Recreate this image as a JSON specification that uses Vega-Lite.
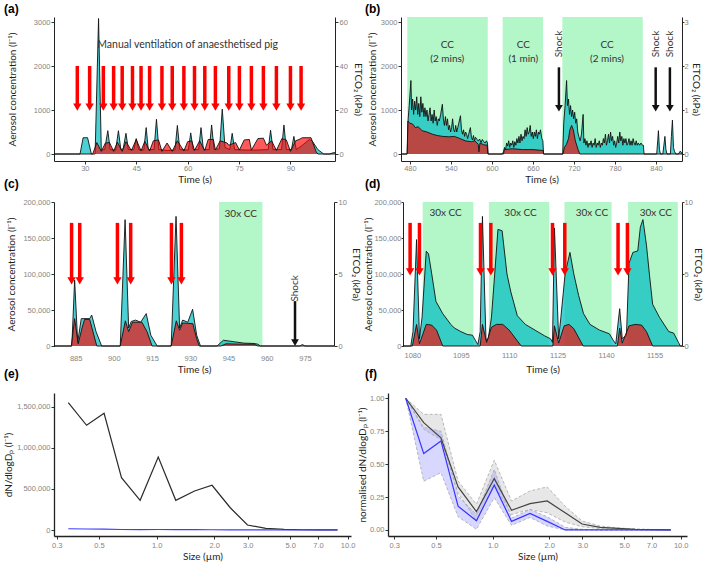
{
  "$schema": "https://vega.github.io/schema/vega-lite/v6.json",
  "background": "white",
  "padding": {"left": 3, "top": 2, "right": 0, "bottom": 0},
  "spacing": -7,
  "config": {
    "view": {"stroke": null},
    "axis": {
      "grid": false, "domainColor": "#222222", "domainWidth": 1, "tickColor": "#333333", "tickSize": 3,
      "labelColor": "#858585", "labelFont": "Liberation Sans", "labelFontSize": 7.5, "labelPadding": 1,
      "labelFlush": false, "labelOverlap": false,
      "titleFont": "Lato", "titleFontSize": 10, "titleFontWeight": "normal", "titleColor": "#1e1e1e"
    },
    "title": {"font": "Liberation Sans", "fontSize": 12, "fontWeight": "bold", "color": "#000000", "anchor": "start", "frame": "group"},
    "text": {"font": "Lato", "fontSize": 10, "color": "#333333"}
  },
  "datasets": {
    "a_aer": [{"t":21,"v":0},{"t":28.6,"v":0},{"t":29.5,"v":370},{"t":30.8,"v":370},{"t":31.9,"v":0},{"t":33.0,"v":0},{"t":34.0,"v":3080},{"t":34.8,"v":90},{"t":35.8,"v":100},{"t":36.7,"v":530},{"t":37.4,"v":100},{"t":39.0,"v":90},{"t":39.8,"v":530},{"t":40.5,"v":100},{"t":41.2,"v":120},{"t":42.0,"v":470},{"t":42.7,"v":100},{"t":44.3,"v":100},{"t":45.0,"v":350},{"t":45.7,"v":100},{"t":47.2,"v":90},{"t":47.9,"v":600},{"t":48.5,"v":100},{"t":50.2,"v":100},{"t":50.9,"v":790},{"t":51.6,"v":100},{"t":54.0,"v":80},{"t":56.3,"v":90},{"t":57.0,"v":650},{"t":57.7,"v":100},{"t":60.2,"v":90},{"t":60.9,"v":480},{"t":61.6,"v":100},{"t":63.2,"v":100},{"t":63.9,"v":600},{"t":64.6,"v":100},{"t":66.3,"v":100},{"t":67.0,"v":660},{"t":67.7,"v":100},{"t":69.3,"v":120},{"t":70.1,"v":1020},{"t":70.9,"v":150},{"t":72.3,"v":100},{"t":73.0,"v":470},{"t":73.7,"v":100},{"t":77.0,"v":90},{"t":80.0,"v":90},{"t":83.5,"v":100},{"t":84.2,"v":540},{"t":84.9,"v":100},{"t":87.4,"v":100},{"t":88.1,"v":660},{"t":88.8,"v":100},{"t":90.3,"v":100},{"t":91.0,"v":400},{"t":91.7,"v":100},{"t":93.5,"v":200},{"t":95.5,"v":330},{"t":96.3,"v":300},{"t":98.0,"v":100},{"t":99.7,"v":0},{"t":101.5,"v":0},{"t":102.5,"v":30},{"t":103,"v":30}],
    "a_et": [{"t":21,"v":0},{"t":32.3,"v":0},{"t":33.5,"v":5.2},{"t":34.8,"v":1.2},{"t":36.0,"v":5.0},{"t":37.2,"v":5.2},{"t":38.4,"v":1.2},{"t":39.5,"v":5.4},{"t":40.9,"v":1.2},{"t":42.0,"v":5.6},{"t":43.6,"v":1.6},{"t":45.0,"v":6.6},{"t":46.4,"v":1.4},{"t":47.5,"v":5.8},{"t":48.9,"v":1.4},{"t":50.0,"v":6.0},{"t":51.5,"v":6.4},{"t":52.5,"v":1.2},{"t":54.0,"v":5.0},{"t":55.5,"v":1.2},{"t":57.0,"v":6.0},{"t":58.9,"v":1.4},{"t":60.0,"v":5.6},{"t":61.2,"v":6.0},{"t":62.0,"v":1.6},{"t":63.5,"v":6.0},{"t":65.0,"v":1.6},{"t":66.0,"v":6.6},{"t":67.5,"v":6.6},{"t":68.1,"v":1.8},{"t":69.5,"v":6.0},{"t":71.5,"v":5.0},{"t":72.0,"v":4.0},{"t":74.0,"v":5.2},{"t":75.1,"v":1.8},{"t":76.5,"v":6.4},{"t":78.0,"v":6.6},{"t":78.6,"v":1.8},{"t":80.5,"v":7.0},{"t":82.1,"v":7.2},{"t":83.0,"v":4.0},{"t":84.5,"v":6.0},{"t":85.9,"v":1.6},{"t":87.5,"v":7.0},{"t":88.8,"v":6.4},{"t":90.0,"v":1.2},{"t":91.5,"v":6.0},{"t":92.5,"v":6.6},{"t":93.5,"v":7.4},{"t":96.0,"v":7.4},{"t":97.5,"v":1.0},{"t":98.0,"v":0},{"t":103,"v":0}],
    "a_arr": [{"t":27.8},{"t":31.4},{"t":35.4},{"t":38.4},{"t":40.9},{"t":43.9},{"t":46.4},{"t":48.9},{"t":52.5},{"t":55.5},{"t":58.9},{"t":62.0},{"t":65.0},{"t":68.1},{"t":72.0},{"t":75.1},{"t":78.6},{"t":82.1},{"t":85.9},{"t":90.0},{"t":93.1}],
    "a_txt": [{"t":60,"label":"Manual ventilation of anaesthetised pig"}],
    "b_aer": [{"t":467,"v":0},{"t":476,"v":0},{"t":477.5,"v":800},{"t":479,"v":1100},{"t":481.5,"v":1670},{"t":482.5,"v":1000},{"t":484,"v":1250},{"t":485.5,"v":900},{"t":487,"v":1200},{"t":488.5,"v":1000},{"t":490,"v":1300},{"t":491.5,"v":900},{"t":493,"v":1150},{"t":494.5,"v":850},{"t":496,"v":1300},{"t":497.5,"v":950},{"t":499,"v":1150},{"t":500.5,"v":850},{"t":502,"v":1050},{"t":503.5,"v":850},{"t":505,"v":1000},{"t":506.5,"v":750},{"t":508,"v":900},{"t":509.5,"v":1050},{"t":511,"v":750},{"t":512.5,"v":900},{"t":514,"v":700},{"t":515.5,"v":1000},{"t":517,"v":750},{"t":518.5,"v":850},{"t":520,"v":650},{"t":521.5,"v":800},{"t":523,"v":750},{"t":525,"v":900},{"t":527.5,"v":1130},{"t":529,"v":800},{"t":530.5,"v":650},{"t":532,"v":850},{"t":533.5,"v":650},{"t":535,"v":800},{"t":536.5,"v":550},{"t":538,"v":650},{"t":539.5,"v":500},{"t":541,"v":600},{"t":542.5,"v":800},{"t":544,"v":550},{"t":545.5,"v":500},{"t":547,"v":650},{"t":548.5,"v":500},{"t":550,"v":600},{"t":551.5,"v":700},{"t":554,"v":870},{"t":555.5,"v":550},{"t":557,"v":450},{"t":558.5,"v":550},{"t":560,"v":400},{"t":561.5,"v":500},{"t":563,"v":450},{"t":564.5,"v":350},{"t":566,"v":450},{"t":568.5,"v":600},{"t":570,"v":380},{"t":571.5,"v":320},{"t":573,"v":420},{"t":574.5,"v":300},{"t":576,"v":380},{"t":578,"v":330},{"t":580,"v":300},{"t":582,"v":340},{"t":584,"v":260},{"t":586,"v":330},{"t":588,"v":280},{"t":590,"v":250},{"t":592,"v":300},{"t":593.5,"v":250},{"t":594.5,"v":0},{"t":615,"v":0},{"t":617,"v":50},{"t":618.5,"v":150},{"t":620,"v":100},{"t":621.5,"v":250},{"t":623,"v":180},{"t":624.5,"v":300},{"t":626,"v":150},{"t":627.5,"v":250},{"t":629,"v":200},{"t":630.5,"v":300},{"t":632,"v":150},{"t":633.5,"v":280},{"t":635,"v":200},{"t":636.5,"v":350},{"t":638,"v":250},{"t":639.5,"v":400},{"t":641,"v":250},{"t":642.5,"v":450},{"t":644,"v":300},{"t":645.5,"v":400},{"t":647,"v":350},{"t":648.5,"v":550},{"t":650,"v":400},{"t":651.5,"v":600},{"t":653,"v":450},{"t":654.5,"v":500},{"t":656,"v":650},{"t":657.5,"v":400},{"t":659,"v":500},{"t":660.5,"v":350},{"t":662,"v":500},{"t":663.5,"v":400},{"t":665,"v":550},{"t":666.5,"v":350},{"t":668,"v":500},{"t":669.5,"v":450},{"t":671,"v":550},{"t":673,"v":350},{"t":674.5,"v":300},{"t":675.5,"v":0},{"t":703.5,"v":0},{"t":705,"v":700},{"t":707,"v":1100},{"t":709.2,"v":1670},{"t":710.5,"v":1100},{"t":712,"v":1250},{"t":713.5,"v":900},{"t":715,"v":1100},{"t":716.5,"v":850},{"t":718,"v":1000},{"t":719.5,"v":800},{"t":721,"v":950},{"t":722.5,"v":700},{"t":724,"v":800},{"t":725.5,"v":500},{"t":727,"v":400},{"t":729,"v":300},{"t":731,"v":450},{"t":733.4,"v":900},{"t":734.5,"v":250},{"t":736,"v":350},{"t":737.5,"v":200},{"t":739,"v":300},{"t":740.5,"v":150},{"t":742,"v":250},{"t":743.5,"v":200},{"t":745,"v":300},{"t":746.5,"v":150},{"t":748,"v":250},{"t":749.5,"v":200},{"t":751,"v":350},{"t":752.5,"v":150},{"t":754,"v":250},{"t":755.5,"v":200},{"t":757,"v":300},{"t":758.5,"v":150},{"t":760,"v":250},{"t":761.5,"v":200},{"t":763,"v":350},{"t":764.5,"v":250},{"t":766,"v":450},{"t":767.5,"v":200},{"t":769,"v":300},{"t":770.5,"v":450},{"t":772,"v":250},{"t":773.5,"v":500},{"t":775,"v":300},{"t":776.5,"v":400},{"t":778,"v":200},{"t":779.5,"v":300},{"t":781,"v":150},{"t":782.5,"v":250},{"t":784,"v":400},{"t":785.5,"v":250},{"t":787,"v":500},{"t":788.5,"v":300},{"t":790,"v":400},{"t":791.5,"v":200},{"t":793,"v":350},{"t":794.5,"v":250},{"t":796,"v":350},{"t":797.5,"v":200},{"t":799,"v":250},{"t":800.5,"v":350},{"t":802,"v":200},{"t":803.5,"v":300},{"t":805,"v":200},{"t":806.5,"v":350},{"t":808,"v":250},{"t":809.5,"v":200},{"t":811,"v":300},{"t":812.5,"v":200},{"t":814,"v":250},{"t":816,"v":200},{"t":818,"v":250},{"t":820,"v":200},{"t":821.5,"v":200},{"t":822.5,"v":0},{"t":841,"v":0},{"t":842.5,"v":300},{"t":843.5,"v":530},{"t":845,"v":100},{"t":846.5,"v":0},{"t":850,"v":0},{"t":851.5,"v":200},{"t":853,"v":400},{"t":854.5,"v":100},{"t":856,"v":0},{"t":861,"v":0},{"t":862.5,"v":400},{"t":864,"v":770},{"t":865.5,"v":150},{"t":867,"v":60},{"t":869,"v":0},{"t":873,"v":0},{"t":875,"v":60},{"t":876.5,"v":50},{"t":878,"v":0}],
    "b_et": [{"t":467,"v":0},{"t":476,"v":0},{"t":477,"v":0.75},{"t":480,"v":0.7},{"t":484,"v":0.68},{"t":488,"v":0.6},{"t":492,"v":0.62},{"t":498,"v":0.53},{"t":505,"v":0.5},{"t":513,"v":0.45},{"t":520,"v":0.42},{"t":528,"v":0.4},{"t":537,"v":0.39},{"t":545,"v":0.4},{"t":552,"v":0.36},{"t":561,"v":0.3},{"t":570,"v":0.28},{"t":575,"v":0.3},{"t":580,"v":0.22},{"t":581,"v":0.05},{"t":582.5,"v":0.25},{"t":588,"v":0.21},{"t":593,"v":0.2},{"t":594,"v":0},{"t":617,"v":0},{"t":618,"v":0.1},{"t":630,"v":0.12},{"t":645,"v":0.1},{"t":660,"v":0.1},{"t":675,"v":0.08},{"t":675.5,"v":0},{"t":704,"v":0},{"t":706,"v":0.15},{"t":709,"v":0.22},{"t":712,"v":0.35},{"t":714,"v":0.55},{"t":716.5,"v":0.65},{"t":719,"v":0.55},{"t":722,"v":0.3},{"t":726,"v":0.1},{"t":728.5,"v":0},{"t":878,"v":0}],
    "b_band": [{"t":476.2,"t2":593.9},{"t":615.7,"t2":674.8},{"t":703,"t2":820.6}],
    "b_txt": [{"t":534.7,"label":"CC\n(2 mins)"},{"t":645.8,"label":"CC\n(1 min)"},{"t":768.3,"label":"CC\n(2 mins)"}],
    "b_shock": [{"t":698},{"t":839.5},{"t":860.3}],
    "c_aer": [{"t":876.5,"v":0},{"t":883.5,"v":0},{"t":884.6,"v":91400},{"t":885.8,"v":5000},{"t":887.2,"v":38000},{"t":890.5,"v":38000},{"t":891.3,"v":43000},{"t":893,"v":20000},{"t":895.2,"v":0},{"t":902.5,"v":0},{"t":904.4,"v":175500},{"t":905.8,"v":25000},{"t":906.8,"v":34000},{"t":908.5,"v":36000},{"t":910.5,"v":33000},{"t":912.7,"v":45000},{"t":914.5,"v":15000},{"t":917,"v":0},{"t":922.5,"v":0},{"t":924.4,"v":180000},{"t":925.8,"v":25000},{"t":927,"v":36000},{"t":929,"v":33000},{"t":930.9,"v":51000},{"t":932.5,"v":15000},{"t":934,"v":0},{"t":940.5,"v":0},{"t":943,"v":8000},{"t":947,"v":6000},{"t":951,"v":4000},{"t":955,"v":3500},{"t":956.5,"v":2500},{"t":957.5,"v":0},{"t":973,"v":0},{"t":974,"v":2000},{"t":975,"v":0},{"t":986.4,"v":0}],
    "c_et": [{"t":876.5,"v":0},{"t":883.3,"v":0},{"t":884.6,"v":1.9},{"t":886,"v":0.15},{"t":887.5,"v":1.25},{"t":888.5,"v":1.85},{"t":890.5,"v":1.85},{"t":893.3,"v":0},{"t":902.5,"v":0},{"t":904.5,"v":1.75},{"t":905.8,"v":1.0},{"t":907.3,"v":1.65},{"t":911,"v":1.65},{"t":913,"v":1.0},{"t":915,"v":0},{"t":922.5,"v":0},{"t":924.5,"v":1.75},{"t":925.8,"v":1.1},{"t":927,"v":1.6},{"t":931,"v":1.55},{"t":932.5,"v":0.5},{"t":933.5,"v":0},{"t":942,"v":0},{"t":944,"v":0.15},{"t":950,"v":0.125},{"t":955,"v":0.125},{"t":956.5,"v":0},{"t":986.4,"v":0}],
    "c_band": [{"t":941.3,"t2":958.3}],
    "c_txt": [{"t":949.8,"label":"30x CC"}],
    "c_arr": [{"t":883.4},{"t":886.6},{"t":901.4},{"t":906.6},{"t":922.6},{"t":926.5}],
    "c_shock": [{"t":971.1}],
    "d_aer": [{"t":1077.1,"v":0},{"t":1079.5,"v":0},{"t":1080.2,"v":20000},{"t":1081.3,"v":147800},{"t":1082.2,"v":10000},{"t":1083,"v":40000},{"t":1084.3,"v":131600},{"t":1085,"v":128000},{"t":1086,"v":100000},{"t":1087.3,"v":62000},{"t":1089.4,"v":45000},{"t":1091.9,"v":30000},{"t":1093,"v":25000},{"t":1095,"v":20000},{"t":1097,"v":16000},{"t":1098.6,"v":15000},{"t":1099.5,"v":8000},{"t":1100.3,"v":2000},{"t":1101,"v":20000},{"t":1101.7,"v":180000},{"t":1102.8,"v":8000},{"t":1103.5,"v":10000},{"t":1104.5,"v":40000},{"t":1105.5,"v":100000},{"t":1106.5,"v":162000},{"t":1107.8,"v":160000},{"t":1109.3,"v":100000},{"t":1110.5,"v":75000},{"t":1112.5,"v":42000},{"t":1115,"v":30000},{"t":1118,"v":22000},{"t":1121,"v":14000},{"t":1122.8,"v":10000},{"t":1123.4,"v":5000},{"t":1124,"v":164000},{"t":1125.3,"v":10000},{"t":1126,"v":40000},{"t":1127.3,"v":100000},{"t":1128.8,"v":130000},{"t":1130,"v":100000},{"t":1131.5,"v":70000},{"t":1133,"v":45000},{"t":1135,"v":30000},{"t":1138,"v":22000},{"t":1141,"v":17000},{"t":1142.2,"v":8000},{"t":1143,"v":3000},{"t":1144.2,"v":51800},{"t":1145,"v":10000},{"t":1146.3,"v":15000},{"t":1147.1,"v":115000},{"t":1148.3,"v":130000},{"t":1149.8,"v":132000},{"t":1150.6,"v":165000},{"t":1151.4,"v":175500},{"t":1152.5,"v":140000},{"t":1153.4,"v":100000},{"t":1154.4,"v":58000},{"t":1156.5,"v":40000},{"t":1159.4,"v":20000},{"t":1160.9,"v":18000},{"t":1162.4,"v":5000},{"t":1163,"v":0},{"t":1163.5,"v":0}],
    "d_et": [{"t":1077.1,"v":0},{"t":1080,"v":0},{"t":1081.3,"v":1.5},{"t":1082.2,"v":0.15},{"t":1084.3,"v":1.5},{"t":1086,"v":1.45},{"t":1087.5,"v":1.1},{"t":1089.4,"v":0},{"t":1101,"v":0},{"t":1101.7,"v":1.5},{"t":1103,"v":0.25},{"t":1104.5,"v":1.3},{"t":1106,"v":1.5},{"t":1108,"v":1.5},{"t":1110,"v":1.1},{"t":1113.7,"v":0},{"t":1123.5,"v":0},{"t":1124,"v":1.4},{"t":1125.3,"v":0.2},{"t":1127,"v":1.4},{"t":1128.5,"v":1.5},{"t":1130,"v":1.2},{"t":1132.9,"v":0},{"t":1143.5,"v":0},{"t":1144.2,"v":1.25},{"t":1145,"v":0.2},{"t":1147.1,"v":1.4},{"t":1149,"v":1.5},{"t":1151,"v":1.45},{"t":1152.5,"v":1.0},{"t":1154.4,"v":0},{"t":1163.5,"v":0}],
    "d_band": [{"t":1083.2,"t2":1098.9},{"t":1103.7,"t2":1122.4},{"t":1127.1,"t2":1141.7},{"t":1146.8,"t2":1162.2}],
    "d_txt": [{"t":1090.3,"label":"30x CC"},{"t":1113.5,"label":"30x CC"},{"t":1135.6,"label":"30x CC"},{"t":1155.4,"label":"30x CC"}],
    "d_arr": [{"t":1079.3},{"t":1082.2},{"t":1101.1},{"t":1104.3},{"t":1123.4},{"t":1127.2},{"t":1143.7},{"t":1146.6}],
    "e_dat": [
      {"s":0.345,"grp":"all","v":1549000},{"s":0.43,"grp":"all","v":1274000},{"s":0.531,"grp":"all","v":1420000},{"s":0.655,"grp":"all","v":636000},{"s":0.82,"grp":"all","v":361000},{"s":1.02,"grp":"all","v":888000},{"s":1.26,"grp":"all","v":361000},{"s":1.58,"grp":"all","v":474000},{"s":1.95,"grp":"all","v":544000},{"s":2.43,"grp":"all","v":271000},{"s":2.99,"grp":"all","v":61000},{"s":3.73,"grp":"all","v":20000},{"s":4.65,"grp":"all","v":8000},{"s":5.75,"grp":"all","v":3000},{"s":7.16,"grp":"all","v":1000},{"s":8.85,"grp":"all","v":500},
      {"s":0.345,"grp":"blue","v":15000},{"s":0.43,"grp":"blue","v":12000},{"s":0.531,"grp":"blue","v":11000},{"s":0.655,"grp":"blue","v":6000},{"s":0.82,"grp":"blue","v":4000},{"s":1.02,"grp":"blue","v":6000},{"s":1.26,"grp":"blue","v":4000},{"s":1.58,"grp":"blue","v":4000},{"s":1.95,"grp":"blue","v":3000},{"s":2.43,"grp":"blue","v":2000},{"s":2.99,"grp":"blue","v":1000},{"s":3.73,"grp":"blue","v":500},{"s":4.65,"grp":"blue","v":200},{"s":5.75,"grp":"blue","v":100},{"s":7.16,"grp":"blue","v":50},{"s":8.85,"grp":"blue","v":0}
    ],
    "f_dat": [
      {"s":0.345,"grp":"all","y":1.0,"lo":1.0,"hi":1.0},{"s":0.43,"grp":"all","y":0.815,"lo":0.765,"hi":0.878},{"s":0.531,"grp":"all","y":0.7,"lo":0.685,"hi":0.878},{"s":0.655,"grp":"all","y":0.327,"lo":0.283,"hi":0.372},{"s":0.82,"grp":"all","y":0.139,"lo":0.068,"hi":0.195},{"s":1.02,"grp":"all","y":0.39,"lo":0.347,"hi":0.53},{"s":1.26,"grp":"all","y":0.15,"lo":0.117,"hi":0.22},{"s":1.58,"grp":"all","y":0.2,"lo":0.155,"hi":0.296},{"s":1.95,"grp":"all","y":0.22,"lo":0.13,"hi":0.327},{"s":2.43,"grp":"all","y":0.13,"lo":0.06,"hi":0.18},{"s":2.99,"grp":"all","y":0.045,"lo":0.025,"hi":0.068},{"s":3.73,"grp":"all","y":0.02,"lo":0.01,"hi":0.03},{"s":4.65,"grp":"all","y":0.012,"lo":0.005,"hi":0.015},{"s":5.75,"grp":"all","y":0.005,"lo":0.002,"hi":0.008},{"s":7.16,"grp":"all","y":0.002,"lo":0,"hi":0.003},{"s":8.85,"grp":"all","y":0.001,"lo":0,"hi":0.001},
      {"s":0.345,"grp":"blue","y":1.0,"lo":1.0,"hi":1.0},{"s":0.43,"grp":"blue","y":0.58,"lo":0.37,"hi":0.78},{"s":0.531,"grp":"blue","y":0.676,"lo":0.435,"hi":0.75},{"s":0.655,"grp":"blue","y":0.18,"lo":0.1,"hi":0.258},{"s":0.82,"grp":"blue","y":0.07,"lo":0.005,"hi":0.117},{"s":1.02,"grp":"blue","y":0.34,"lo":0.245,"hi":0.46},{"s":1.26,"grp":"blue","y":0.065,"lo":0.035,"hi":0.09},{"s":1.58,"grp":"blue","y":0.125,"lo":0.095,"hi":0.155},{"s":1.95,"grp":"blue","y":0.065,"lo":0.03,"hi":0.1},{"s":2.43,"grp":"blue","y":0.0,"lo":0,"hi":0.02},{"s":2.99,"grp":"blue","y":0,"lo":0,"hi":0.005},{"s":3.73,"grp":"blue","y":0,"lo":0,"hi":0},{"s":4.65,"grp":"blue","y":0,"lo":0,"hi":0},{"s":5.75,"grp":"blue","y":0,"lo":0,"hi":0},{"s":7.16,"grp":"blue","y":0,"lo":0,"hi":0},{"s":8.85,"grp":"blue","y":0,"lo":0,"hi":0}
    ]
  },
  "vconcat": [
    {"spacing": 2, "hconcat": [
    {
      "width": 281, "height": 144,
      "title": {"text": "(a)", "dx": -50, "offset": 1},
      "encoding": {"x": {"field": "t", "type": "quantitative", "scale": {"domain": [21, 103], "nice": false, "zero": false},
        "axis": {"values": [30, 45, 60, 75, 90], "format": "d", "title": "Time (s)", "labelPadding": 0, "titlePadding": 3}}},
      "layer": [
        {"data": {"name": "a_aer"}, "mark": {"type": "area", "color": "#00bcc2", "line": {"color": "#111111", "strokeWidth": 0.9}},
         "encoding": {"y": {"field": "v", "type": "quantitative", "scale": {"domain": [-159, 3114], "nice": false, "zero": false},
           "axis": {"orient": "left", "values": [0, 1000, 2000, 3000], "format": "d", "title": "Aerosol concentration (l⁻¹)", "titlePadding": 16}},
           "y2": {"datum": 0}}},
        {"data": {"name": "a_et"}, "mark": {"type": "area", "color": "#ff0000", "fillOpacity": 0.65, "line": {"color": "#111111", "strokeWidth": 0.9}},
         "encoding": {"y": {"field": "v", "type": "quantitative", "scale": {"domain": [-3.18, 62.28], "nice": false, "zero": false},
           "axis": {"orient": "right", "values": [0, 20, 40, 60], "format": "d", "title": "ETCO₂ (kPa)", "titlePadding": 5}},
           "y2": {"datum": 0}}},
        {"data": {"name": "a_arr"}, "mark": {"type": "rule", "color": "#ff0000", "strokeWidth": 3.5},
         "encoding": {"y": {"datum": 2000, "type": "quantitative", "scale": {"domain": [-159, 3114], "nice": false, "zero": false}, "axis": null}, "y2": {"datum": 1100}}},
        {"data": {"name": "a_arr"}, "mark": {"type": "point", "shape": "triangle-down", "filled": true, "color": "#ff0000", "size": 70, "opacity": 1},
         "encoding": {"y": {"datum": 1066, "type": "quantitative", "scale": {"domain": [-159, 3114], "nice": false, "zero": false}, "axis": null}}},
        {"data": {"name": "a_txt"}, "mark": {"type": "text", "fontSize": 10.5},
         "encoding": {"y": {"datum": 2470, "type": "quantitative", "scale": {"domain": [-159, 3114], "nice": false, "zero": false}, "axis": null}, "text": {"field": "label", "type": "nominal"}}}
      ],
      "resolve": {"scale": {"y": "independent"}}
    },
    {
      "width": 281, "height": 144,
      "title": {"text": "(b)", "dx": -36, "offset": 1},
      "encoding": {"x": {"field": "t", "type": "quantitative", "scale": {"domain": [467, 878], "nice": false, "zero": false},
        "axis": {"values": [480, 540, 600, 660, 720, 780, 840], "format": "d", "title": "Time (s)", "labelPadding": 0, "titlePadding": 3}}},
      "layer": [
        {"data": {"name": "b_band"}, "mark": {"type": "rect", "color": "#b3f6c8"},
         "encoding": {"x2": {"field": "t2"}, "y": {"datum": 0, "type": "quantitative", "scale": {"domain": [-159, 3114], "nice": false, "zero": false}, "axis": null}, "y2": {"datum": 3114}}},
        {"data": {"name": "b_aer"}, "mark": {"type": "area", "color": "#00bcc2", "line": {"color": "#111111", "strokeWidth": 0.9}},
         "encoding": {"y": {"field": "v", "type": "quantitative", "scale": {"domain": [-159, 3114], "nice": false, "zero": false},
           "axis": {"orient": "left", "values": [0, 1000, 2000, 3000], "format": "d", "title": "Aerosol concentration (l⁻¹)", "titlePadding": 3}},
           "y2": {"datum": 0}}},
        {"data": {"name": "b_et"}, "mark": {"type": "area", "color": "#ff0000", "fillOpacity": 0.65, "line": {"color": "#111111", "strokeWidth": 0.9}},
         "encoding": {"y": {"field": "v", "type": "quantitative", "scale": {"domain": [-0.159, 3.114], "nice": false, "zero": false},
           "axis": {"orient": "right", "values": [0, 1, 2, 3], "format": "d", "title": "ETCO₂ (kPa)", "tickSize": 2, "labelPadding": 0, "titlePadding": 2}},
           "y2": {"datum": 0}}},
        {"data": {"name": "b_txt"}, "mark": {"type": "text", "lineBreak": "\n", "lineHeight": 14, "baseline": "middle"},
         "encoding": {"y": {"datum": 2470, "type": "quantitative", "scale": {"domain": [-159, 3114], "nice": false, "zero": false}, "axis": null}, "text": {"field": "label", "type": "nominal"}}},
        {"data": {"name": "b_shock"}, "mark": {"type": "text", "text": "Shock", "angle": 270, "baseline": "middle", "align": "center"},
         "encoding": {"y": {"datum": 2500, "type": "quantitative", "scale": {"domain": [-159, 3114], "nice": false, "zero": false}, "axis": null}}},
        {"data": {"name": "b_shock"}, "mark": {"type": "rule", "color": "#111111", "strokeWidth": 2.5},
         "encoding": {"y": {"datum": 1970, "type": "quantitative", "scale": {"domain": [-159, 3114], "nice": false, "zero": false}, "axis": null}, "y2": {"datum": 1080}}},
        {"data": {"name": "b_shock"}, "mark": {"type": "point", "shape": "triangle-down", "filled": true, "color": "#111111", "size": 60, "opacity": 1},
         "encoding": {"y": {"datum": 1040, "type": "quantitative", "scale": {"domain": [-159, 3114], "nice": false, "zero": false}, "axis": null}}}
      ],
      "resolve": {"scale": {"y": "independent"}}
    }]},
    {"spacing": 2, "hconcat": [
    {
      "width": 280, "height": 144,
      "title": {"text": "(c)", "dx": -50, "offset": 7},
      "encoding": {"x": {"field": "t", "type": "quantitative", "scale": {"domain": [876.5, 986.4], "nice": false, "zero": false},
        "axis": {"values": [885, 900, 915, 930, 945, 960, 975], "format": "d", "title": "Time (s)", "domain": false, "ticks": false, "labelPadding": 8, "titlePadding": 3}}},
      "layer": [
        {"data": {"name": "c_band"}, "mark": {"type": "rect", "color": "#b3f6c8"},
         "encoding": {"x2": {"field": "t2"}, "y": {"datum": 0, "type": "quantitative", "scale": {"domain": [0, 200000], "nice": false, "zero": false}, "axis": null}, "y2": {"datum": 200000}}},
        {"data": {"name": "c_aer"}, "mark": {"type": "area", "color": "#00bcc2", "line": {"color": "#111111", "strokeWidth": 0.9}},
         "encoding": {"y": {"field": "v", "type": "quantitative", "scale": {"domain": [0, 200000], "nice": false, "zero": false},
           "axis": {"orient": "left", "values": [0, 50000, 100000, 150000, 200000], "format": ",d", "title": "Aerosol concentration (l⁻¹)", "titlePadding": 6}},
           "y2": {"datum": 0}}},
        {"data": {"name": "c_et"}, "mark": {"type": "area", "color": "#ff0000", "fillOpacity": 0.65, "line": {"color": "#111111", "strokeWidth": 0.9}},
         "encoding": {"y": {"field": "v", "type": "quantitative", "scale": {"domain": [0, 10], "nice": false, "zero": false},
           "axis": {"orient": "right", "values": [0, 5, 10], "format": "d", "title": "ETCO₂ (kPa)", "titlePadding": 4}},
           "y2": {"datum": 0}}},
        {"data": {"name": "c_txt"}, "mark": {"type": "text", "baseline": "middle"},
         "encoding": {"y": {"datum": 184000, "type": "quantitative", "scale": {"domain": [0, 200000], "nice": false, "zero": false}, "axis": null}, "text": {"field": "label", "type": "nominal"}}},
        {"data": {"name": "c_arr"}, "mark": {"type": "rule", "color": "#ff0000", "strokeWidth": 3.5},
         "encoding": {"y": {"datum": 171000, "type": "quantitative", "scale": {"domain": [0, 200000], "nice": false, "zero": false}, "axis": null}, "y2": {"datum": 92000}}},
        {"data": {"name": "c_arr"}, "mark": {"type": "point", "shape": "triangle-down", "filled": true, "color": "#ff0000", "size": 70, "opacity": 1},
         "encoding": {"y": {"datum": 90300, "type": "quantitative", "scale": {"domain": [0, 200000], "nice": false, "zero": false}, "axis": null}}},
        {"data": {"name": "c_shock"}, "mark": {"type": "text", "text": "Shock", "angle": 270, "baseline": "middle", "align": "center"},
         "encoding": {"y": {"datum": 80000, "type": "quantitative", "scale": {"domain": [0, 200000], "nice": false, "zero": false}, "axis": null}}},
        {"data": {"name": "c_shock"}, "mark": {"type": "rule", "color": "#111111", "strokeWidth": 2.5},
         "encoding": {"y": {"datum": 62300, "type": "quantitative", "scale": {"domain": [0, 200000], "nice": false, "zero": false}, "axis": null}, "y2": {"datum": 6000}}},
        {"data": {"name": "c_shock"}, "mark": {"type": "point", "shape": "triangle-down", "filled": true, "color": "#111111", "size": 60, "opacity": 1},
         "encoding": {"y": {"datum": 4800, "type": "quantitative", "scale": {"domain": [0, 200000], "nice": false, "zero": false}, "axis": null}}}
      ],
      "resolve": {"scale": {"y": "independent"}}
    },
    {
      "width": 279, "height": 144,
      "title": {"text": "(d)", "dx": -38, "offset": 7},
      "encoding": {"x": {"field": "t", "type": "quantitative", "scale": {"domain": [1077.1, 1163.5], "nice": false, "zero": false},
        "axis": {"values": [1080, 1095, 1110, 1125, 1140, 1155], "format": "d", "title": "Time (s)", "domain": false, "ticks": false, "labelPadding": 5, "titlePadding": 6}}},
      "layer": [
        {"data": {"name": "d_band"}, "mark": {"type": "rect", "color": "#b3f6c8"},
         "encoding": {"x2": {"field": "t2"}, "y": {"datum": 0, "type": "quantitative", "scale": {"domain": [0, 200000], "nice": false, "zero": false}, "axis": null}, "y2": {"datum": 200000}}},
        {"data": {"name": "d_aer"}, "mark": {"type": "area", "color": "#00bcc2", "line": {"color": "#111111", "strokeWidth": 0.9}},
         "encoding": {"y": {"field": "v", "type": "quantitative", "scale": {"domain": [0, 200000], "nice": false, "zero": false},
           "axis": {"orient": "left", "values": [0, 50000, 100000, 150000, 200000], "format": ",d", "title": "Aerosol concentration (l⁻¹)", "tickSize": 2, "labelPadding": 0, "titlePadding": 0}},
           "y2": {"datum": 0}}},
        {"data": {"name": "d_et"}, "mark": {"type": "area", "color": "#ff0000", "fillOpacity": 0.65, "line": {"color": "#111111", "strokeWidth": 0.9}},
         "encoding": {"y": {"field": "v", "type": "quantitative", "scale": {"domain": [0, 10], "nice": false, "zero": false},
           "axis": {"orient": "right", "values": [0, 5, 10], "format": "d", "title": "ETCO₂ (kPa)", "tickSize": 2, "labelPadding": 0, "titlePadding": 0}},
           "y2": {"datum": 0}}},
        {"data": {"name": "d_txt"}, "mark": {"type": "text", "baseline": "middle"},
         "encoding": {"y": {"datum": 184700, "type": "quantitative", "scale": {"domain": [0, 200000], "nice": false, "zero": false}, "axis": null}, "text": {"field": "label", "type": "nominal"}}},
        {"data": {"name": "d_arr"}, "mark": {"type": "rule", "color": "#ff0000", "strokeWidth": 3.5},
         "encoding": {"y": {"datum": 171000, "type": "quantitative", "scale": {"domain": [0, 200000], "nice": false, "zero": false}, "axis": null}, "y2": {"datum": 104000}}},
        {"data": {"name": "d_arr"}, "mark": {"type": "point", "shape": "triangle-down", "filled": true, "color": "#ff0000", "size": 70, "opacity": 1},
         "encoding": {"y": {"datum": 102800, "type": "quantitative", "scale": {"domain": [0, 200000], "nice": false, "zero": false}, "axis": null}}}
      ],
      "resolve": {"scale": {"y": "independent"}}
    }]},
    {"spacing": 2, "hconcat": [
    {
      "width": 297, "height": 143,
      "title": {"text": "(e)", "dx": -50, "offset": 12},
      "data": {"name": "e_dat"},
      "mark": {"type": "line", "strokeWidth": 1.2},
      "encoding": {
        "x": {"field": "s", "type": "quantitative", "scale": {"type": "log", "domain": [0.2904, 10.41], "nice": false},
          "axis": {"values": [0.3, 0.5, 1, 2, 3, 5, 7, 10], "format": ".1f", "title": "Size (µm)", "domainWidth": 1.3, "labelPadding": 2, "titlePadding": 3}},
        "y": {"field": "v", "type": "quantitative", "scale": {"domain": [-73000, 1667000], "nice": false, "zero": false},
          "axis": {"values": [0, 500000, 1000000, 1500000], "format": ",d", "title": "dN/dlogDₚ (l⁻¹)", "domainWidth": 1.3, "titlePadding": 3}},
        "color": {"field": "grp", "type": "nominal", "scale": {"domain": ["all", "blue"], "range": ["#2b2b2b", "#3d3dff"]}, "legend": null}
      }
    },
    {
      "width": 299, "height": 143,
      "title": {"text": "(f)", "dx": -23, "offset": 12},
      "data": {"name": "f_dat"},
      "encoding": {
        "x": {"field": "s", "type": "quantitative", "scale": {"type": "log", "domain": [0.2777, 10.8], "nice": false},
          "axis": {"values": [0.3, 0.5, 1, 2, 3, 5, 7, 10], "format": ".1f", "title": "Size (µm)", "domainWidth": 1.3, "labelPadding": 2, "titlePadding": 3}}
      },
      "layer": [
        {"mark": {"type": "area", "fillOpacity": 0.4},
         "encoding": {
           "y": {"field": "lo", "type": "quantitative", "scale": {"domain": [-0.046, 1.04], "nice": false, "zero": false},
             "axis": {"values": [0, 0.25, 0.5, 0.75, 1], "format": ".2f", "title": "normalised dN/dlogDₚ (l⁻¹)", "domainWidth": 1.3, "titlePadding": 2}},
           "y2": {"field": "hi"},
           "fill": {"field": "grp", "type": "nominal", "scale": {"domain": ["all", "blue"], "range": ["#c4c4c4", "#9a9aff"]}, "legend": null}
         }},
        {"mark": {"type": "line", "color": "#a8a8a8", "strokeWidth": 0.8, "strokeDash": [3, 2]},
         "encoding": {"y": {"field": "lo", "type": "quantitative",
           "axis": {"values": [0, 0.25, 0.5, 0.75, 1], "format": ".2f", "title": "normalised dN/dlogDₚ (l⁻¹)", "domainWidth": 1.3, "titlePadding": 2}},
           "detail": {"field": "grp"}}},
        {"mark": {"type": "line", "color": "#a8a8a8", "strokeWidth": 0.8, "strokeDash": [3, 2]},
         "encoding": {"y": {"field": "hi", "type": "quantitative",
           "axis": {"values": [0, 0.25, 0.5, 0.75, 1], "format": ".2f", "title": "normalised dN/dlogDₚ (l⁻¹)", "domainWidth": 1.3, "titlePadding": 2}},
           "detail": {"field": "grp"}}},
        {"mark": {"type": "line", "strokeWidth": 1.2},
         "encoding": {"y": {"field": "y", "type": "quantitative",
           "axis": {"values": [0, 0.25, 0.5, 0.75, 1], "format": ".2f", "title": "normalised dN/dlogDₚ (l⁻¹)", "domainWidth": 1.3, "titlePadding": 2}},
           "stroke": {"field": "grp", "type": "nominal", "scale": {"domain": ["all", "blue"], "range": ["#444444", "#3535ff"]}, "legend": null}}}
      ]
    }]}
  ]
}
